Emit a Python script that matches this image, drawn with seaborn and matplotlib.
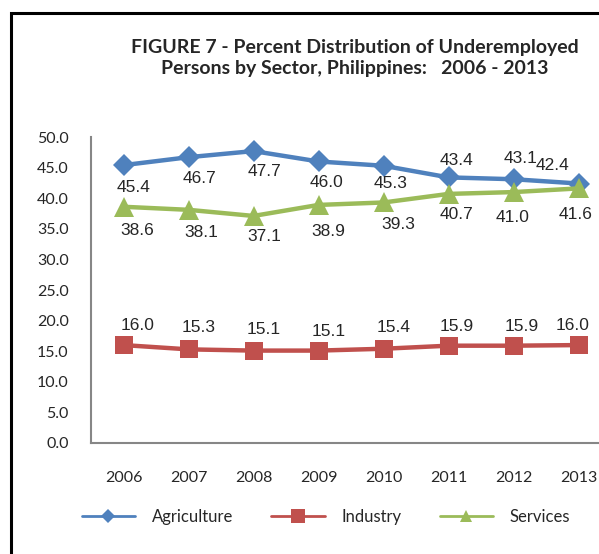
import matplotlib
matplotlib.use("Agg")
import matplotlib.pyplot as plt
import matplotlib.patches as mpatches
import seaborn as sns
import pandas as pd

years = [2006, 2007, 2008, 2009, 2010, 2011, 2012, 2013]
agriculture = [45.4, 46.7, 47.7, 46.0, 45.3, 43.4, 43.1, 42.4]
industry = [16.0, 15.3, 15.1, 15.1, 15.4, 15.9, 15.9, 16.0]
services = [38.6, 38.1, 37.1, 38.9, 39.3, 40.7, 41.0, 41.6]
sectors = ["Agriculture", "Industry", "Services"]
y_ticks = [0, 5, 10, 15, 20, 25, 30, 35, 40, 45, 50]

df = pd.DataFrame({
    "year": years * 3,
    "value": agriculture + industry + services,
    "sector": ["Agriculture"] * 8 + ["Industry"] * 8 + ["Services"] * 8,
})

sns.set_style("white")
plt.rcParams["font.family"] = ["Lato", "DejaVu Sans"]

colors = {"Agriculture": "#4F81BD", "Industry": "#C0504D", "Services": "#9BBB59"}
markers = {"Agriculture": "D", "Industry": "s", "Services": "^"}
msize = {"Agriculture": 11, "Industry": 13, "Services": 14}

# label offsets (points) per point, as placed by the original chart
agr_off = [(7, -16), (8, -15), (8, -15), (6, -15), (5, -13), (6, 12), (5, 15), (-19, 13)]
ser_off = [(10, -17), (9, -16), (8, -15), (7, -19), (11, -16), (6, -15), (-1, -18), (-2, -19)]
ind_off = [(10, 14), (7, 16), (7, 15), (7, 14), (7, 15), (6, 14), (6, 14), (-4, 14)]

fig = plt.figure(figsize=(5.99, 5.54), dpi=100)
ax = fig.add_axes([91 / 599, 111 / 554, 520 / 599, 306 / 554])

for s in sectors:
    sub = df[df["sector"] == s]
    sns.lineplot(data=sub, x="year", y="value", ax=ax, color=colors[s],
                 marker=markers[s], markersize=msize[s], markeredgewidth=0,
                 linewidth=3.2, label=s, legend=False)

# data labels
lab_font = dict(family=["Liberation Sans", "DejaVu Sans"], fontsize=12.5, ha="center", va="center")
for vals, offs in [(agriculture, agr_off), (services, ser_off), (industry, ind_off)]:
    for x, v, off in zip(years, vals, offs):
        ax.annotate(f"{v:.1f}", (x, v), xytext=off, textcoords="offset points", **lab_font)

ax.set_xlim(2005.5, 2013.5)
ax.set_ylim(0, 50)
ax.set_xticks(years)
ax.set_xticklabels([str(y) for y in years])
ax.set_yticks(y_ticks)
ax.set_yticklabels([f"{t:.1f}" for t in y_ticks])
ax.tick_params(axis="y", length=0, pad=16, labelsize=11.5)
ax.tick_params(axis="x", length=0, pad=20, labelsize=11.5)
ax.set_xlabel("")
ax.set_ylabel("")
for sp in ["top", "right"]:
    ax.spines[sp].set_visible(False)
for sp in ["left", "bottom"]:
    ax.spines[sp].set_color("#868686")
    ax.spines[sp].set_linewidth(1.5)

# legend
handles = [plt.Line2D([], [], color=colors[s], marker=markers[s], linewidth=2,
                      markersize={"Agriculture": 7, "Industry": 10, "Services": 9}[s],
                      markeredgewidth=0) for s in sectors]
fig.legend(handles, sectors, loc="center", bbox_to_anchor=(326 / 599, 1 - 517 / 554),
           ncol=3, frameon=False, fontsize=12, handlelength=3.2, columnspacing=2.3,
           handletextpad=1.0)

# title
fig.text(355 / 599, 1 - 58 / 554,
         "FIGURE 7 - Percent Distribution of Underemployed\nPersons by Sector, Philippines:   2006 - 2013",
         ha="center", va="center", fontsize=14, fontweight="bold", linespacing=1.3)

# outer frame (cropped on right and bottom)
frame = mpatches.Rectangle((11 / 599, -0.1), 1.2, 1 - 13 / 554 + 0.1, transform=fig.transFigure,
                           fill=False, edgecolor="black", linewidth=2.2)
fig.patches.append(frame)

fig.savefig("out.png", dpi=100)
